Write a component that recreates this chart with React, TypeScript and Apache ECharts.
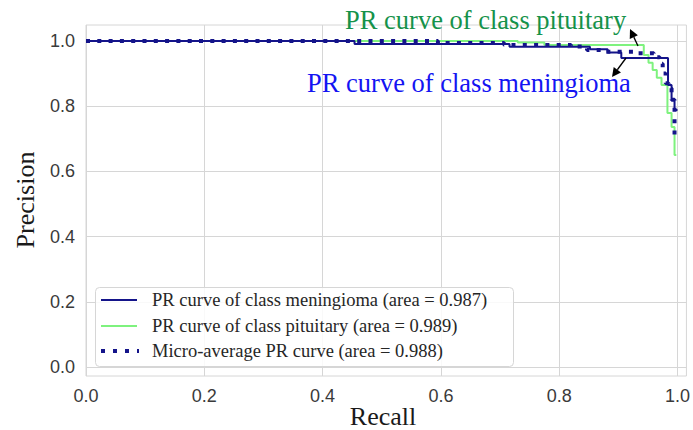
import React, { useEffect, useRef } from "react";
import * as echarts from "echarts";

// ---- data ----
const meningiomaRecall = [0, 0.454, 0.454, 0.716, 0.716, 0.852, 0.852, 0.882, 0.882, 0.905, 0.905, 0.984, 0.984, 0.99, 0.99, 0.995, 0.995, 1.0];
const meningiomaPrecision = [1, 1, 0.991, 0.991, 0.982, 0.982, 0.975, 0.975, 0.965, 0.965, 0.948, 0.948, 0.865, 0.865, 0.82, 0.82, 0.788, 0.788];

const pituitaryRecall = [0, 0.73, 0.73, 0.775, 0.775, 0.943, 0.943, 0.951, 0.951, 0.958, 0.958, 0.965, 0.965, 0.973, 0.973, 0.983, 0.983, 0.99, 0.99, 0.995, 0.995, 0.998];
const pituitaryPrecision = [1, 1, 0.995, 0.995, 0.988, 0.988, 0.957, 0.957, 0.933, 0.933, 0.911, 0.911, 0.887, 0.887, 0.865, 0.865, 0.779, 0.779, 0.736, 0.736, 0.65, 0.65];

const microRecall = [0, 0.595, 0.595, 0.707, 0.707, 0.82, 0.82, 0.847, 0.847, 0.876, 0.876, 0.93, 0.93, 0.96, 0.96, 0.97, 0.97, 0.975, 0.975, 0.98, 0.98, 0.985, 0.985, 0.99, 0.99, 0.995, 0.995, 0.998];
const microPrecision = [1, 1, 0.994, 0.994, 0.988, 0.988, 0.983, 0.983, 0.972, 0.972, 0.967, 0.967, 0.962, 0.962, 0.95, 0.95, 0.93, 0.93, 0.9, 0.9, 0.87, 0.87, 0.855, 0.855, 0.82, 0.82, 0.71, 0.71];

const xTicks = [0, 0.2, 0.4, 0.6, 0.8, 1.0];
const yTicks = [0, 0.2, 0.4, 0.6, 0.8, 1.0];

const legendLabels = [
  "PR curve of class meningioma (area = 0.987)",
  "PR curve of class pituitary (area = 0.989)",
  "Micro-average PR curve (area = 0.988)",
];

const NAVY = "#14148a";
const LIGHTGREEN = "#7ef27e";
const GRID = "#d6d6d6";
const SERIF = '"Liberation Serif", "Times New Roman", serif';
const SANS = '"Liberation Sans", Arial, sans-serif';

function zip(a: number[], b: number[]) {
  return a.map((v, i) => [v, b[i]]);
}

function arrow(tx: number, ty: number, hx: number, hy: number) {
  const dx = hx - tx;
  const dy = hy - ty;
  const len = Math.sqrt(dx * dx + dy * dy);
  const ux = dx / len;
  const uy = dy / len;
  const hl = 9;
  const hw = 4.5;
  const bx = hx - ux * hl;
  const by = hy - uy * hl;
  return [
    {
      type: "line",
      z: 100,
      shape: { x1: tx, y1: ty, x2: bx, y2: by },
      style: { stroke: "#000", lineWidth: 1.3 },
    },
    {
      type: "polygon",
      z: 100,
      shape: {
        points: [
          [hx, hy],
          [bx - uy * hw, by + ux * hw],
          [bx + uy * hw, by - ux * hw],
        ],
      },
      style: { fill: "#000" },
    },
  ];
}

export default function App() {
  const ref = useRef<HTMLDivElement>(null);

  useEffect(() => {
    if (!ref.current) return;
    const chart = echarts.init(ref.current, undefined, { renderer: "svg" });

    const legendRows = [300, 326, 351];
    const legendGraphics: any[] = [
      {
        type: "rect",
        z: 90,
        shape: { x: 95.5, y: 287.5, width: 418, height: 79, r: 4 },
        style: { fill: "rgba(255,255,255,0.85)", stroke: GRID, lineWidth: 1 },
      },
      {
        type: "line",
        z: 91,
        shape: { x1: 101, y1: legendRows[0], x2: 137, y2: legendRows[0] },
        style: { stroke: NAVY, lineWidth: 2 },
      },
      {
        type: "line",
        z: 91,
        shape: { x1: 101, y1: legendRows[1], x2: 137, y2: legendRows[1] },
        style: { stroke: LIGHTGREEN, lineWidth: 2 },
      },
      {
        type: "line",
        z: 91,
        shape: { x1: 101, y1: legendRows[2], x2: 139, y2: legendRows[2] },
        style: { stroke: NAVY, lineWidth: 4, lineDash: [4, 8], lineCap: "butt" },
      },
    ];
    legendLabels.forEach((t, i) => {
      legendGraphics.push({
        type: "text",
        z: 91,
        x: 152,
        y: legendRows[i],
        style: {
          text: t,
          fill: "#262626",
          fontSize: 18.5,
          fontFamily: SERIF,
          align: "left",
          verticalAlign: "middle",
        },
      });
    });

    const option: any = {
      animation: false,
      backgroundColor: "#ffffff",
      grid: {
        left: 86,
        top: 25,
        right: 3,
        bottom: 54,
        show: true,
        borderColor: GRID,
        borderWidth: 1,
        backgroundColor: "#ffffff",
      },
      xAxis: {
        type: "value",
        min: 0,
        max: 1.0151,
        axisLine: { show: false, onZero: false },
        axisTick: { show: false, customValues: xTicks },
        splitLine: { show: true, lineStyle: { color: GRID, width: 1 } },
        axisLabel: {
          customValues: xTicks,
          formatter: (v: number) => v.toFixed(1),
          color: "#3a3a3a",
          fontSize: 18,
          fontFamily: SANS,
          margin: 11,
        },
      },
      yAxis: {
        type: "value",
        min: -0.0276,
        max: 1.049,
        axisLine: { show: false, onZero: false },
        axisTick: { show: false, customValues: yTicks },
        splitLine: { show: true, lineStyle: { color: GRID, width: 1 } },
        axisLabel: {
          customValues: yTicks,
          formatter: (v: number) => v.toFixed(1),
          color: "#3a3a3a",
          fontSize: 18,
          fontFamily: SANS,
          margin: 11,
        },
      },
      series: [
        {
          name: "meningioma",
          type: "line",
          data: zip(meningiomaRecall, meningiomaPrecision),
          symbol: "none",
          lineStyle: { color: NAVY, width: 2 },
          z: 3,
        },
        {
          name: "pituitary",
          type: "line",
          data: zip(pituitaryRecall, pituitaryPrecision),
          symbol: "none",
          lineStyle: { color: LIGHTGREEN, width: 2 },
          z: 2,
        },
        {
          name: "micro",
          type: "line",
          data: zip(microRecall, microPrecision),
          symbol: "none",
          lineStyle: { color: NAVY, width: 4, type: [4, 7.3], cap: "butt" },
          z: 4,
        },
      ],
      graphic: [
        ...legendGraphics,
        {
          type: "text",
          z: 100,
          x: 383,
          y: 416,
          style: {
            text: "Recall",
            fill: "#1a1a1a",
            fontSize: 26,
            fontFamily: SERIF,
            align: "center",
            verticalAlign: "middle",
          },
        },
        {
          type: "text",
          z: 100,
          x: 25,
          y: 200,
          rotation: Math.PI / 2,
          style: {
            text: "Precision",
            fill: "#1a1a1a",
            fontSize: 26,
            fontFamily: SERIF,
            align: "center",
            verticalAlign: "middle",
          },
        },
        {
          type: "text",
          z: 100,
          x: 345,
          y: 20,
          style: {
            text: "PR curve of class pituitary",
            fill: "#15924a",
            fontSize: 26.5,
            fontFamily: SERIF,
            align: "left",
            verticalAlign: "middle",
          },
        },
        {
          type: "text",
          z: 100,
          x: 307,
          y: 83,
          style: {
            text: "PR curve of class meningioma",
            fill: "#1414f2",
            fontSize: 26.5,
            fontFamily: SERIF,
            align: "left",
            verticalAlign: "middle",
          },
        },
        ...arrow(638, 46, 630, 29),
        ...arrow(626, 58, 612, 77),
      ],
    };

    chart.setOption(option);
    return () => {
      chart.dispose();
    };
  }, []);

  return (
    <div
      ref={ref}
      style={{ position: "fixed", left: 0, top: 0, width: 693, height: 430, background: "#fff" }}
    />
  );
}
